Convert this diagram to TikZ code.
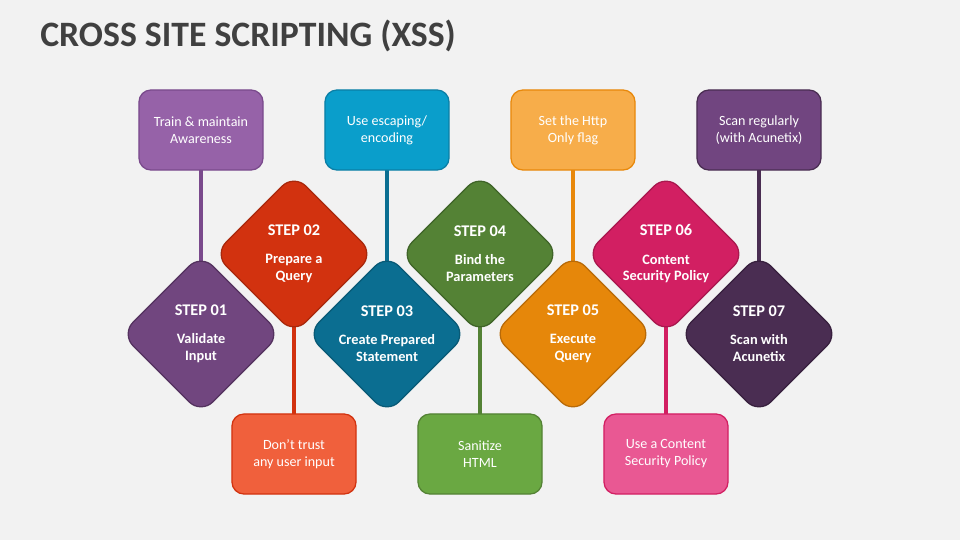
\documentclass[tikz,border=0pt]{standalone}
\usepackage{fontspec}
\setmainfont{Carlito}
\usetikzlibrary{shapes.geometric}

\definecolor{bgcol}{HTML}{F2F2F2}
\definecolor{titlecol}{HTML}{404040}
% step diamonds
\definecolor{c1}{HTML}{71467F}\definecolor{c1d}{HTML}{54325F}
\definecolor{c2}{HTML}{D2320F}\definecolor{c2d}{HTML}{A8280C}
\definecolor{c3}{HTML}{0B6E91}\definecolor{c3d}{HTML}{095A76}
\definecolor{c4}{HTML}{548235}\definecolor{c4d}{HTML}{3F6428}
\definecolor{c5}{HTML}{E6870A}\definecolor{c5d}{HTML}{B86A08}
\definecolor{c6}{HTML}{D21F62}\definecolor{c6d}{HTML}{A8184E}
\definecolor{c7}{HTML}{4A2D52}\definecolor{c7d}{HTML}{38203E}
% tip boxes
\definecolor{t1}{HTML}{9662A8}\definecolor{t1d}{HTML}{7A4A8C}
\definecolor{b2}{HTML}{F0603C}\definecolor{b2d}{HTML}{D2320F}
\definecolor{t3}{HTML}{0A9ECB}\definecolor{t3d}{HTML}{0B7FA6}
\definecolor{b4}{HTML}{6AA842}\definecolor{b4d}{HTML}{548235}
\definecolor{t5}{HTML}{F7AD4A}\definecolor{t5d}{HTML}{E8880A}
\definecolor{b6}{HTML}{E95893}\definecolor{b6d}{HTML}{D21F62}
\definecolor{t7}{HTML}{714580}\definecolor{t7d}{HTML}{4A2D52}

\newcommand\stepfont{\fontsize{11.6}{14}\selectfont}

\pgfdeclarelayer{back}
\pgfdeclarelayer{links}
\pgfsetlayers{back,links,main}

\tikzset{
  heading/.style={anchor=base west, inner sep=0pt, text=titlecol, font=\bfseries\fontsize{25.4}{28}\selectfont},
  stepnode/.style={diamond, aspect=1, minimum width=4cm, minimum height=4cm, inner sep=0pt,
    rounded corners=0.42cm, line width=0.9pt, text=white, align=center,
    font=\bfseries\fontsize{10.2}{12}\selectfont},
  tipbox/.style={rectangle, minimum width=3.1cm, minimum height=2cm, inner sep=0pt,
    rounded corners=0.3cm, line width=0.9pt, text=white, align=center,
    font=\fontsize{10}{12}\selectfont},
  link/.style={line width=2.6pt},
}

\begin{document}
\begin{tikzpicture}[x=0.025cm, y=-0.025cm]
\begin{pgfonlayer}{back}
\fill[bgcol] (0,0) rectangle (960,540);
\end{pgfonlayer}
\useasboundingbox (0,0) rectangle (960,540);

\node[heading] (ttl) at (40,46) {CROSS SITE SCRIPTING (XSS)};

% steps
\node[stepnode, fill=c1, draw=c1d] (d1) at (201,334) {{\stepfont STEP 01}\\[8pt]Validate\\Input};
\node[stepnode, fill=c2, draw=c2d] (d2) at (294,254) {{\stepfont STEP 02}\\[8pt]Prepare a\\Query};
\node[stepnode, fill=c3, draw=c3d] (d3) at (387,334) {{\stepfont STEP 03}\\[8pt]Create Prepared\\Statement};
\node[stepnode, fill=c4, draw=c4d] (d4) at (480,254) {{\stepfont STEP 04}\\[8pt]Bind the\\Parameters};
\node[stepnode, fill=c5, draw=c5d] (d5) at (573,334) {{\stepfont STEP 05}\\[8pt]Execute\\Query};
\node[stepnode, fill=c6, draw=c6d] (d6) at (666,254) {{\stepfont STEP 06}\\[8pt]Content\\Security Policy};
\node[stepnode, fill=c7, draw=c7d] (d7) at (759,334) {{\stepfont STEP 07}\\[8pt]Scan with\\Acunetix};

% tips
\node[tipbox, fill=t1, draw=t1d] (t1) at (201,130) {Train \& maintain\\Awareness};
\node[tipbox, fill=t3, draw=t3d] (t3) at (387,130) {Use escaping/\\encoding};
\node[tipbox, fill=t5, draw=t5d] (t5) at (573,130) {Set the Http\\Only flag};
\node[tipbox, fill=t7, draw=t7d] (t7) at (759,130) {Scan regularly\\(with Acunetix)};

\node[tipbox, fill=b2, draw=b2d] (b2) at (294,454) {Don’t trust\\any user input};
\node[tipbox, fill=b4, draw=b4d] (b4) at (480,454) {Sanitize\\HTML};
\node[tipbox, fill=b6, draw=b6d] (b6) at (666,454) {Use a Content\\Security Policy};

\begin{pgfonlayer}{links}
\path[link] (t1.center) edge[draw=t1d] (d1.center)
            (t3.center) edge[draw=c3]  (d3.center)
            (t5.center) edge[draw=t5d] (d5.center)
            (t7.center) edge[draw=c7]  (d7.center);
\path[link] (d2.center) edge[draw=c2] (b2.center)
            (d4.center) edge[draw=c4] (b4.center)
            (d6.center) edge[draw=c6] (b6.center);
\end{pgfonlayer}
\end{tikzpicture}
\end{document}
